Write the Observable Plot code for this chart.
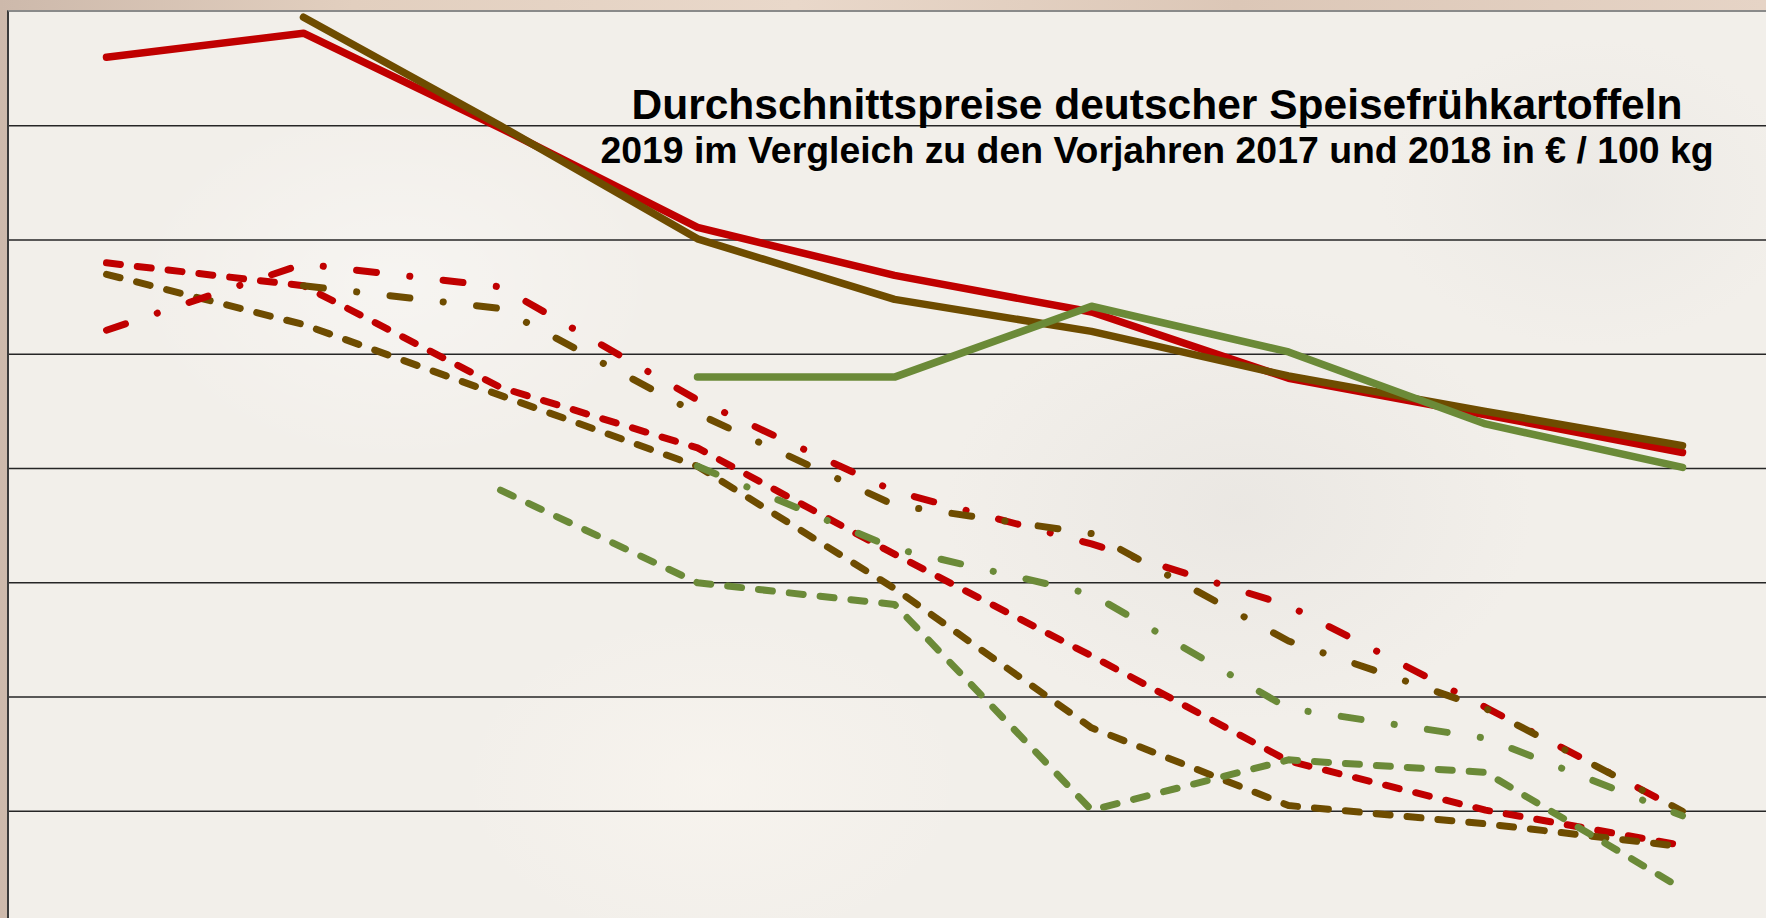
<!DOCTYPE html>
<html>
<head>
<meta charset="utf-8">
<script src="https://cdn.jsdelivr.net/npm/d3@7"></script>
<script src="https://cdn.jsdelivr.net/npm/@observablehq/plot@0.6"></script>
<style>
  html, body { margin: 0; padding: 0; width: 1766px; height: 918px; overflow: hidden; }
  body { background: linear-gradient(90deg, #cdb9ab 0%, #e2cfbf 20%, #e9d8ca 45%, #dcc7b7 70%, #e6d4c6 100%); }
  #wrap { position: relative; width: 1766px; height: 918px; }
  #area {
    position: absolute; left: 7px; top: 10px; right: 0; bottom: 0;
    background:
      radial-gradient(ellipse 380px 260px at 22% 30%, rgba(255,255,255,0.35), rgba(255,255,255,0) 70%),
      radial-gradient(ellipse 420px 300px at 70% 55%, rgba(225,222,218,0.45), rgba(225,222,218,0) 70%),
      radial-gradient(ellipse 300px 220px at 90% 20%, rgba(230,228,224,0.5), rgba(230,228,224,0) 70%),
      radial-gradient(ellipse 360px 240px at 40% 85%, rgba(250,246,240,0.6), rgba(250,246,240,0) 70%),
      #f2efea;
    border-left: 2px solid #3a3a3a;
    border-top: 2.5px solid #8a8a8a;
  }
  #chart { position: absolute; left: 0; top: 0; }
  .t { position: absolute; left: 557px; width: 1200px; text-align: center;
       font-family: "Liberation Sans", Arial, Helvetica, sans-serif; font-weight: bold;
       color: #000; line-height: 1.117; white-space: nowrap; }
  #title { font-size: 42.5px; top: 80.5px; }
  #subtitle { font-size: 37.4px; top: 129.5px; }
</style>
</head>
<body>
<div id="wrap">
  <div id="area"></div>
  <div id="chart"></div>
  <div class="t" id="title">Durchschnittspreise deutscher Speisefrühkartoffeln</div>
  <div class="t" id="subtitle">2019 im Vergleich zu den Vorjahren 2017 und 2018 in € / 100 kg</div>
</div>
<script>
// x categories (periods of the season; axis labels not visible in the reference)
const categories = ["P1", "P2", "P3", "P4", "P5", "P6", "P7", "P8", "P9"];
const years = ["2019", "2018", "2017"];
const yearColors = ["#C00000", "#6E4C00", "#6B8A38"];
const gridTicks = [10, 20, 30, 40, 50, 60, 70];

// solid lines
const solid2019 = [76.0, 78.1, 69.8, 61.1, 56.9, 53.7, 47.9, 44.7, 41.4];
const solid2018 = [null, 79.5, 70.0, 60.1, 54.8, 52.0, 48.1, 45.0, 42.0];
const solid2017 = [null, null, null, 48.0, 48.0, 54.2, 50.2, 43.9, 40.1];
// dashed lines
const dashed2019 = [58.0, 56.0, 47.1, 41.8, 32.5, 23.6, 14.4, 10.1, 7.0];
const dashed2018 = [57.0, 52.6, 46.4, 40.2, 29.5, 17.3, 10.5, 8.9, 6.9];
const dashed2017 = [null, null, 38.1, 30.0, 28.1, 10.1, 14.5, 13.4, 3.2];
// dash-dot lines
const dashdot2019 = [52.1, 57.9, 55.9, 46.0, 38.0, 33.4, 28.0, 19.1, 10.0];
const dashdot2018 = [null, 56.0, 54.0, 44.8, 36.8, 34.3, 24.9, 19.0, 10.0];
const dashdot2017 = [null, null, null, 40.2, 33.0, 29.0, 19.0, 16.4, 9.6];

function rows(style, year, values) {
  return values.map((v, i) => ({cat: categories[i], value: v, year, style}));
}
const solidRows = [
  ...rows("solid", "2019", solid2019),
  ...rows("solid", "2018", solid2018),
  ...rows("solid", "2017", solid2017)
];
const dashedRows = [
  ...rows("dashed", "2019", dashed2019),
  ...rows("dashed", "2018", dashed2018),
  ...rows("dashed", "2017", dashed2017)
];
const dashdotRows = [
  ...rows("dashdot", "2019", dashdot2019),
  ...rows("dashdot", "2018", dashdot2018),
  ...rows("dashdot", "2017", dashdot2017)
];

const common = {x: "cat", y: "value", z: "year", stroke: "year",
  strokeLinecap: "round", strokeLinejoin: "round"};

const chart = Plot.plot({
  width: 1766,
  height: 918,
  marginLeft: 9,
  marginRight: 0,
  marginTop: 11,
  marginBottom: 0,
  style: {background: "transparent", overflow: "visible"},
  x: {type: "point", domain: categories, range: [105, 1682], padding: 0, axis: null},
  y: {domain: [0, 80], range: [925, 11], axis: null},
  color: {domain: years, range: yearColors},
  marks: [
    Plot.ruleY(gridTicks, {stroke: "#262626", strokeWidth: 1.3}),
    Plot.line(solidRows, {...common, strokeWidth: 7.5}),
    Plot.line(dashedRows, {...common, strokeWidth: 7, strokeDasharray: "14,17"}),
    Plot.line(dashdotRows, {...common, strokeWidth: 7, strokeDasharray: "20,33.5,0.1,33.5"})
  ]
});
document.getElementById("chart").appendChild(chart);
</script>
</body>
</html>
